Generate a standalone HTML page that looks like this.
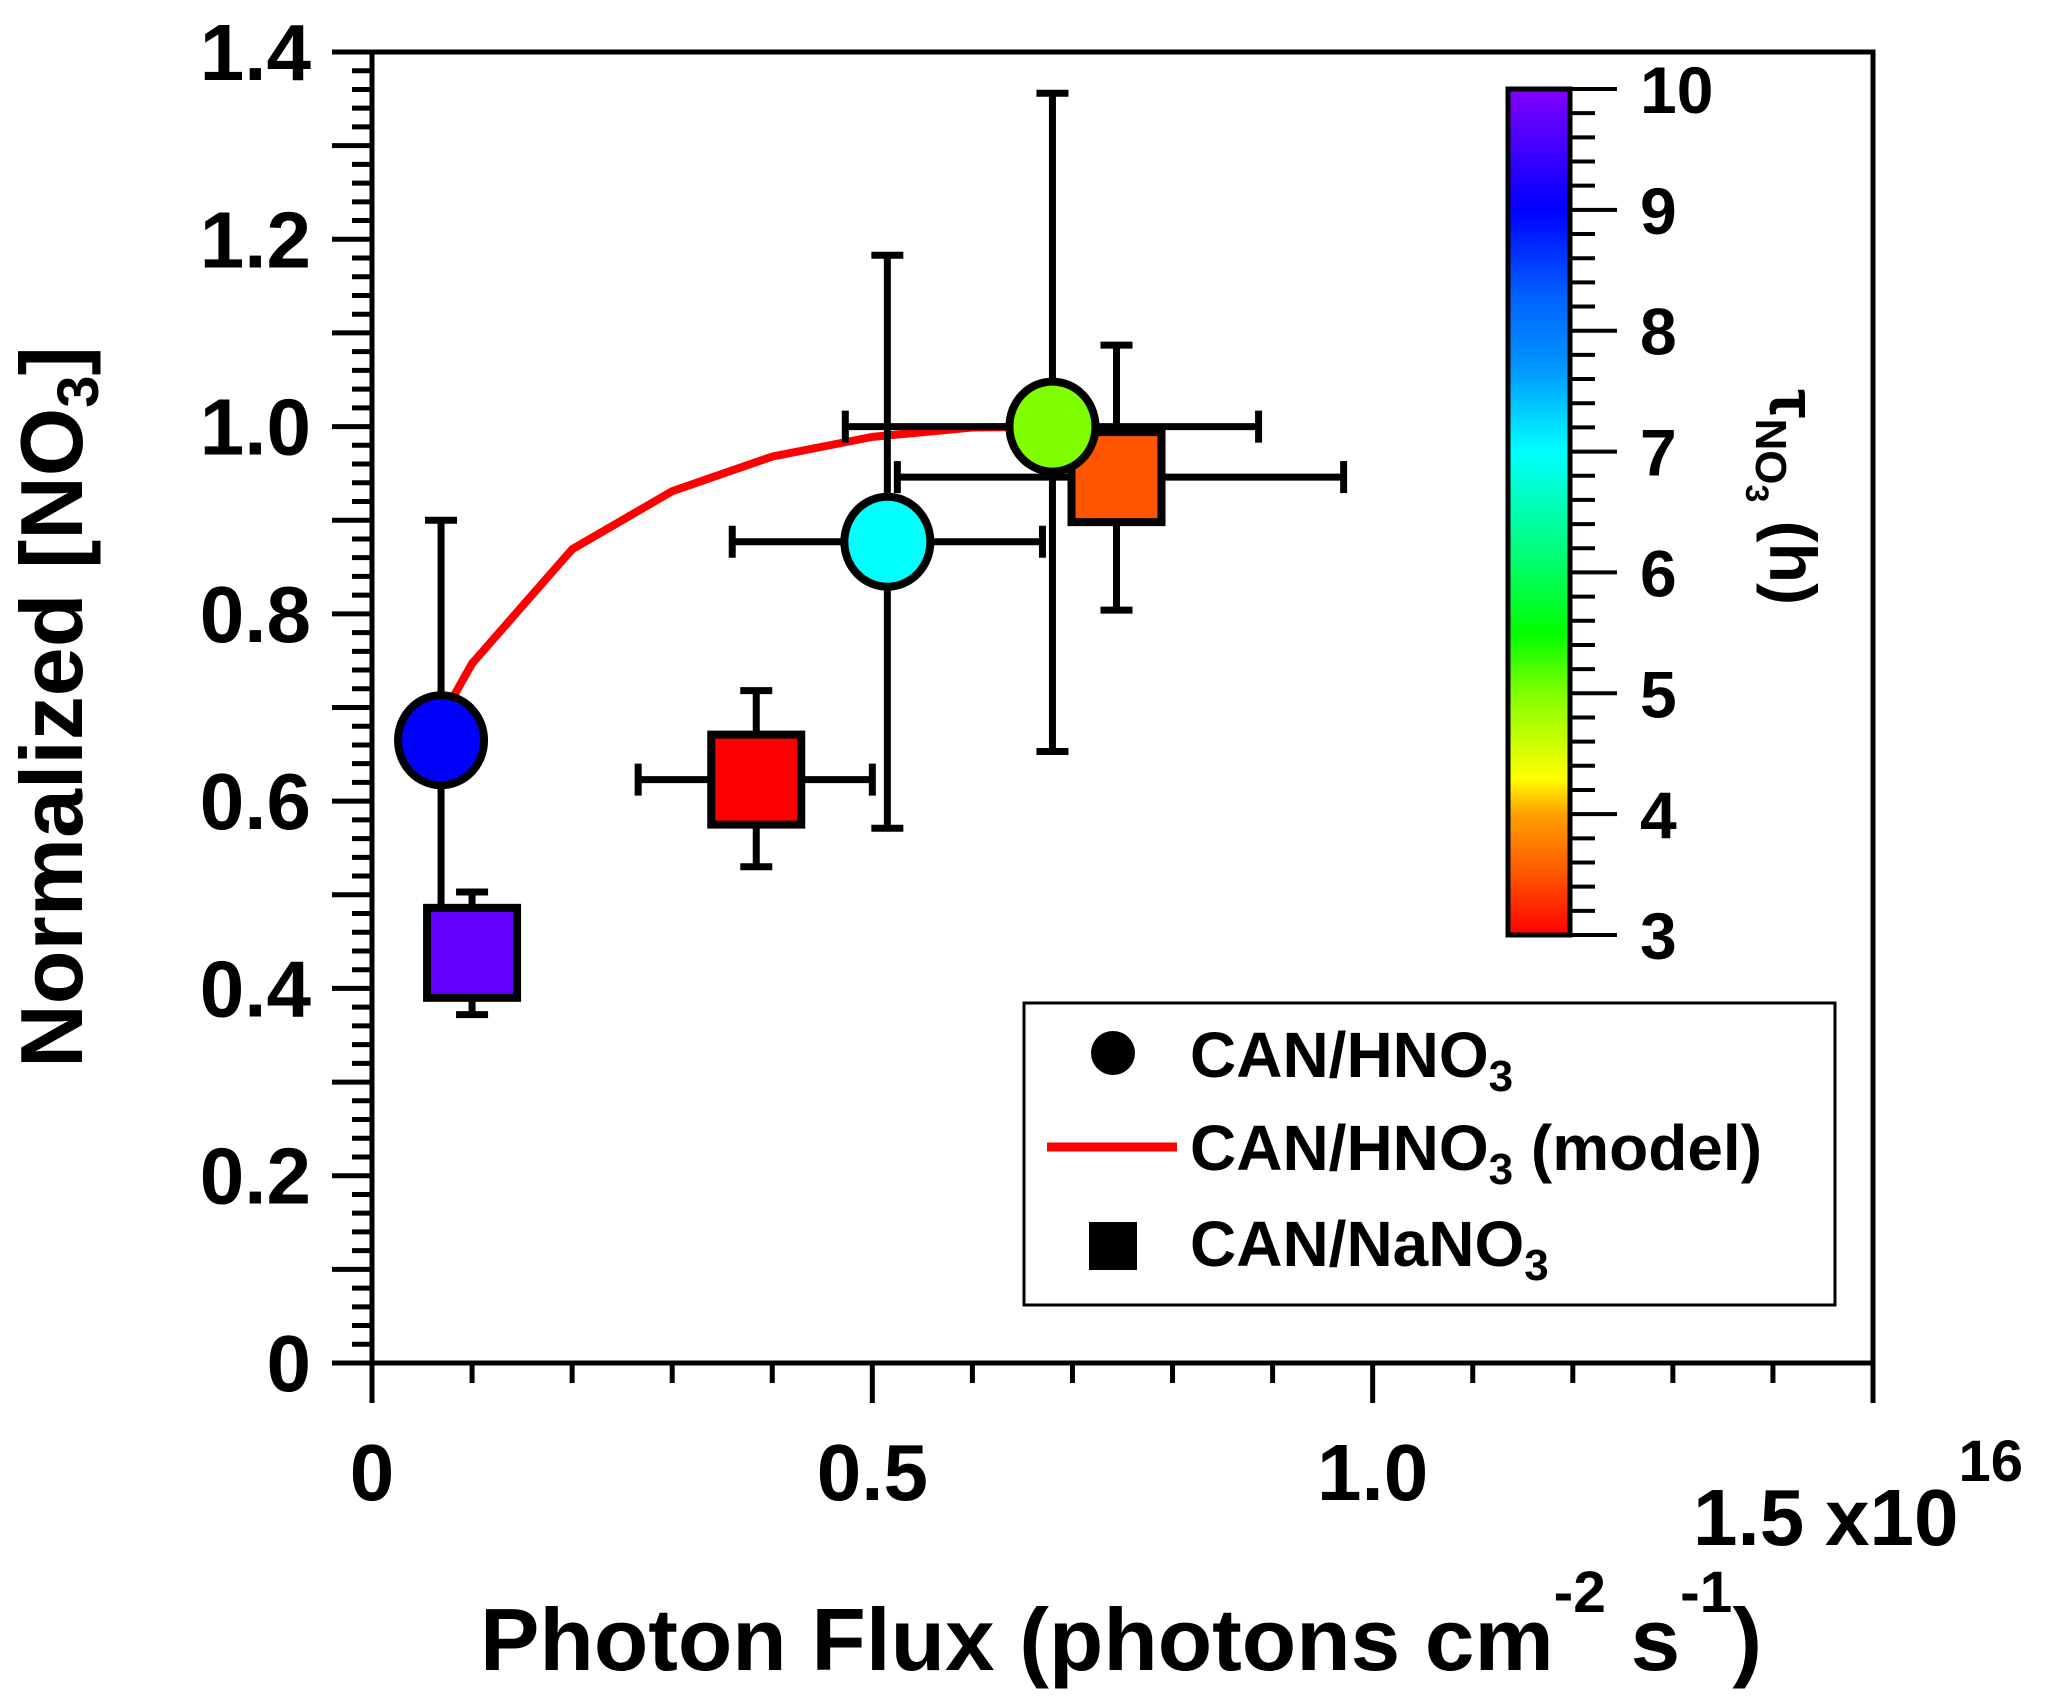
<!DOCTYPE html>
<html><head><meta charset="utf-8"><style>
html,body{margin:0;padding:0;background:#fff;}
svg{display:block;font-family:"Liberation Sans",Arial,sans-serif;font-weight:bold;}
</style></head><body>
<svg id="chart" xmlns="http://www.w3.org/2000/svg" width="2067" height="1701" viewBox="0 0 2067 1701">
<defs>
<linearGradient id="cbgrad" x1="0" y1="1" x2="0" y2="0"></linearGradient>
</defs>
<g id="axes"></g>
<g id="series"></g>
<g id="cbar"></g>
<g id="legend">
<rect x="1024" y="1003" width="811" height="302" fill="#fff" stroke="#000" stroke-width="3"/>
<circle cx="1113" cy="1053" r="22" fill="#000"/>
<text x="1190" y="1077" font-size="64">CAN/HNO<tspan font-size="44" dy="14">3</tspan></text>
<line x1="1047" y1="1147" x2="1177" y2="1147" stroke="#ff0000" stroke-width="9"/>
<text x="1190" y="1170" font-size="64">CAN/HNO<tspan font-size="44" dy="14">3</tspan><tspan dy="-14"> (model)</tspan></text>
<rect x="1089" y="1222" width="48" height="48" fill="#000"/>
<text x="1190" y="1266" font-size="64">CAN/NaNO<tspan font-size="44" dy="14">3</tspan></text>
</g>
</svg>
<script>
// ---- data ----
const yTicks = [0, 0.2, 0.4, 0.6, 0.8, 1.0, 1.2, 1.4];
const yTickLabels = ["0", "0.2", "0.4", "0.6", "0.8", "1.0", "1.2", "1.4"];
const xTicks = [0, 0.5, 1.0, 1.5];
const xTickLabels = ["0", "0.5", "1.0", "1.5"];
const cbTicks = [3, 4, 5, 6, 7, 8, 9, 10];
const cbTickLabels = ["3", "4", "5", "6", "7", "8", "9", "10"];

const hno3X = [0.069, 0.515, 0.68];
const hno3Y = [0.665, 0.877, 1.0];
const hno3XLo = [null, 0.36, 0.473];
const hno3XHi = [null, 0.67, 0.886];
const hno3YLo = [0.433, 0.571, 0.653];
const hno3YHi = [0.90, 1.183, 1.356];
const hno3Tau = [9.0, 7.0, 5.0];

const nano3X = [0.10, 0.384, 0.744];
const nano3Y = [0.438, 0.623, 0.946];
const nano3XLo = [null, 0.266, 0.525];
const nano3XHi = [null, 0.50, 0.971];
const nano3YLo = [0.372, 0.530, 0.804];
const nano3YHi = [0.503, 0.718, 1.087];
const nano3Tau = [9.8, 3.0, 3.5];

const modelX = [0.07, 0.10, 0.20, 0.30, 0.40, 0.50, 0.60, 0.68];
const modelY = [0.69, 0.747, 0.869, 0.931, 0.968, 0.989, 0.999, 1.0];

// ---- geometry ----
const X0 = 372, X1 = 1873, Y0 = 1363, Y1 = 52;
const xS = v => X0 + (v / 1.5) * (X1 - X0);
const yS = v => Y0 - (v / 1.4) * (Y0 - Y1);
const CB_X = 1508, CB_W = 62, CB_TOP = 89, CB_BOT = 935;
const cbS = v => CB_BOT - (v - 3) / 7 * (CB_BOT - CB_TOP);

const cmapT = [3, 3.5, 4, 4.3, 5, 5.5, 6.2, 7, 7.7, 8.3, 9, 10];
const cmapC = [[255,0,0],[255,85,0],[255,160,0],[255,255,0],[128,255,0],[0,255,0],[0,255,128],[0,255,255],[0,150,255],[0,96,255],[0,0,255],[128,0,255]];
function cmap(t){
  if (t <= cmapT[0]) return 'rgb('+cmapC[0].join(',')+')';
  for (let i=1;i<cmapT.length;i++){
    if (t <= cmapT[i]){
      const f=(t-cmapT[i-1])/(cmapT[i]-cmapT[i-1]);
      const c=cmapC[i].map((v,k)=>Math.round(cmapC[i-1][k]+(v-cmapC[i-1][k])*f));
      return 'rgb('+c.join(',')+')';
    }
  }
  return 'rgb('+cmapC[cmapC.length-1].join(',')+')';
}

const NS = 'http://www.w3.org/2000/svg';
function mk(parent, tag, attrs){
  const e = document.createElementNS(NS, tag);
  for (const k in attrs) e.setAttribute(k, attrs[k]);
  parent.appendChild(e);
  return e;
}
const axes = document.getElementById('axes');
const series = document.getElementById('series');
const cbar = document.getElementById('cbar');

// frame
let f = mk(axes,'path',{d:`M${X0-40} ${Y1} H${X1} V${Y0} H${X0-40} M${X0} ${Y1} V${Y0+40}`,fill:'none',stroke:'#000','stroke-width':5});



// y ticks
for (let i=0;i<=70;i++){
  const v=i*0.02, y=yS(v);
  const len = (i%5===0)?40:20;
  const t = mk(axes,'line',{x1:X0-len,y1:y,x2:X0,y2:y,stroke:'#000','stroke-width':5});
  
  
}
yTicks.forEach((v,i)=>{
  const t = mk(axes,'text',{x:311,y:yS(v)+28,'text-anchor':'end','font-size':80});
  t.textContent = yTickLabels[i];
  
  
});
// x ticks
for (let i=0;i<=15;i++){
  const v=i*0.1, x=xS(v);
  const len = (i%5===0)?40:20;
  const t = mk(axes,'line',{x1:x,y1:Y0,x2:x,y2:Y0+len,stroke:'#000','stroke-width':5});
  
  
}
xTicks.forEach((v,i)=>{
  const last = i===xTicks.length-1;
  const t = mk(axes,'text',{x:last? xS(v)-180 : xS(v), y:last?1545:1500,'text-anchor':last?'start':'middle','font-size':80});
  t.textContent = xTickLabels[i];
  
  
});
let mult = mk(axes,'text',{x:1825,y:1545,'font-size':80});
mult.innerHTML = 'x10<tspan font-size="58" dy="-64">16</tspan>';



let xt = mk(axes,'text',{x:480,y:1670,'font-size':88,textLength:1282,lengthAdjust:'spacingAndGlyphs'});
xt.innerHTML = 'Photon Flux (photons cm<tspan font-size="58" dy="-58">-2</tspan><tspan dy="58"> s</tspan><tspan font-size="58" dy="-58">-1</tspan><tspan dy="58">)</tspan>';



let yt = mk(axes,'text',{x:0,y:0,'font-size':88,'text-anchor':'middle',transform:'translate(82,707) rotate(-90)'});
yt.innerHTML = 'Normalized [NO<tspan font-size="58" dy="16">3</tspan><tspan dy="-16">]</tspan>';



// model line
const mp = mk(series,'polyline',{points:modelX.map((x,i)=>xS(x)+','+yS(modelY[i])).join(' '),fill:'none',stroke:'#ff0000','stroke-width':8,'stroke-linejoin':'round'});



function errbars(X,Y,XL,XH,YL,YH,name){
  X.forEach((x,i)=>{
    const cx=xS(x), cy=yS(Y[i]), c=16;
    let d = `M${cx} ${yS(YL[i])} V${yS(YH[i])} M${cx-c} ${yS(YL[i])} H${cx+c} M${cx-c} ${yS(YH[i])} H${cx+c}`;
    if (XL[i]!==null){
      d += ` M${xS(XL[i])} ${cy} H${xS(XH[i])} M${xS(XL[i])} ${cy-c} V${cy+c} M${xS(XH[i])} ${cy-c} V${cy+c}`;
    }
    const e = mk(series,'path',{d:d,fill:'none',stroke:'#000','stroke-width':7});
    
    
  });
}
errbars(hno3X,hno3Y,hno3XLo,hno3XHi,hno3YLo,hno3YHi,'can-hno3');
errbars(nano3X,nano3Y,nano3XLo,nano3XHi,nano3YLo,nano3YHi,'can-nano3');

nano3X.forEach((x,i)=>{
  const s = mk(series,'rect',{x:xS(x)-45,y:yS(nano3Y[i])-45,width:90,height:90,fill:cmap(nano3Tau[i]),stroke:'#000','stroke-width':8});
  
  
});
hno3X.forEach((x,i)=>{
  const s = mk(series,'ellipse',{cx:xS(x),cy:yS(hno3Y[i]),rx:43,ry:45,fill:cmap(hno3Tau[i]),stroke:'#000','stroke-width':8});
  
  
});

// colorbar
const grad = document.getElementById('cbgrad');
cmapT.forEach((t,i)=>{
  mk(grad,'stop',{offset:((t-3)/7*100)+'%','stop-color':'rgb('+cmapC[i].join(',')+')'});
});
let cb = mk(cbar,'rect',{x:CB_X,y:CB_TOP,width:CB_W,height:CB_BOT-CB_TOP,fill:'url(#cbgrad)',stroke:'#000','stroke-width':5});


for (let i=0;i<=35;i++){
  const v=3+i*0.2, y=cbS(v);
  const len=(i%5===0)?47:25;
  const t = mk(cbar,'line',{x1:CB_X+CB_W,y1:y,x2:CB_X+CB_W+len,y2:y,stroke:'#000','stroke-width':4});
  
  
}
cbTicks.forEach((v,i)=>{
  const t = mk(cbar,'text',{x:1640,y:cbS(v)+24,'font-size':66});
  t.textContent = cbTickLabels[i];
  
  
});
let ct = mk(cbar,'text',{x:0,y:0,'font-size':66,'text-anchor':'middle',transform:'translate(1770,497) rotate(90)'});
ct.innerHTML = 'τ<tspan font-size="44" dy="14">NO</tspan><tspan font-size="32" dy="10">3</tspan><tspan dy="-24"> (h)</tspan>';


</script>
</body></html>
